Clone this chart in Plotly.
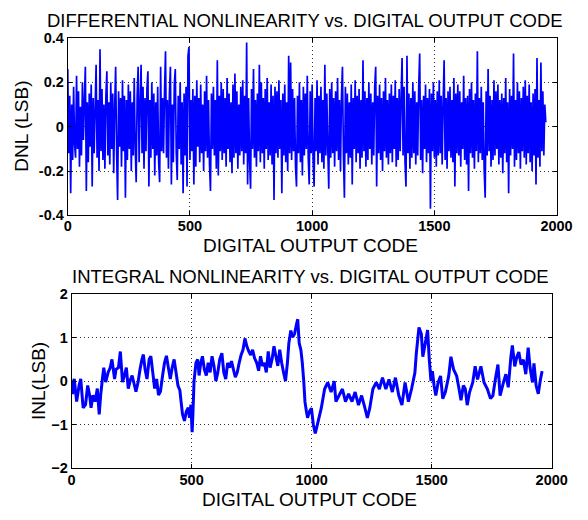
import plotly.graph_objects as go

# ---------------- data ----------------
dnl_code_step = 4
dnl_values = [
    0.26, -0.12, 0.14, -0.30, 0.10, -0.15, 0.18, -0.08, -0.14, 0.23,
    -0.10, 0.16, -0.18, 0.09, -0.13, 0.20, -0.06, 0.12, 0.27, -0.29,
    0.11, -0.16, 0.15, -0.09, 0.19, -0.27, 0.13, -0.12, 0.08, 0.28,
    -0.14, 0.12, -0.20, 0.35, -0.11, 0.17, -0.15, 0.10, -0.19, 0.14,
    0.25, -0.13, 0.11, -0.17, 0.20, -0.10, 0.15, -0.21, 0.09, 0.27,
    -0.12, -0.33, 0.16, -0.09, 0.13, -0.18, 0.21, -0.11, 0.14, -0.32,
    0.12, -0.15, 0.19, -0.10, 0.16, -0.20, 0.11, -0.13, 0.22, -0.09,
    -0.25, 0.14, 0.27, -0.16, 0.10, 0.28, -0.12, 0.18, -0.19, 0.13,
    -0.11, 0.17, 0.25, -0.27, 0.12, -0.14, 0.20, -0.10, 0.15, -0.22,
    0.11, -0.13, 0.18, -0.16, -0.25, 0.27, -0.11, 0.13, -0.12, 0.16,
    0.34, -0.14, 0.12, -0.19, 0.15, 0.27, -0.26, 0.10, -0.16, 0.19,
    0.26, -0.12, -0.24, 0.14, -0.10, 0.20, -0.17, 0.11, -0.30, 0.15,
    -0.13, 0.18, -0.27, 0.32, 0.36, -0.15, 0.12, -0.11, 0.17, -0.26,
    0.14, -0.18, 0.21, -0.09, 0.13, -0.16, 0.19, -0.12, 0.10, -0.20,
    0.16, -0.11, 0.23, -0.14, 0.12, -0.17, -0.29, 0.15, -0.10, 0.18,
    -0.13, 0.12, -0.19, 0.30, -0.22, 0.14, -0.11, 0.20, -0.15, 0.17,
    -0.12, 0.13, -0.18, 0.22, -0.10, 0.15, -0.16, 0.11, -0.21, 0.19,
    -0.14, 0.24, -0.12, 0.16, -0.19, 0.10, -0.13, 0.18, -0.11, 0.21,
    -0.17, 0.14, -0.12, 0.38, -0.26, 0.13, -0.15, -0.28, 0.17, -0.10,
    0.26, -0.14, 0.12, -0.18, 0.15, -0.11, 0.28, -0.16, 0.20, -0.12,
    0.13, -0.19, 0.17, -0.10, 0.22, -0.15, 0.11, -0.13, 0.19, -0.17,
    0.14, -0.33, 0.18, -0.12, 0.16, -0.14, 0.21, -0.10, 0.12, -0.30,
    0.15, -0.13, 0.19, -0.16, 0.11, -0.20, 0.32, -0.12, 0.29, -0.15,
    0.17, -0.11, 0.13, -0.18, -0.27, 0.14, -0.12, 0.20, -0.16, 0.12,
    -0.22, 0.18, -0.13, 0.15, -0.10, 0.23, -0.14, -0.26, 0.16, -0.12,
    0.19, -0.15, -0.27, 0.13, -0.11, 0.21, -0.17, 0.14, -0.12, 0.18,
    -0.16, 0.12, -0.19, 0.28, -0.13, 0.15, -0.10, -0.28, 0.17, -0.14,
    0.20, -0.12, 0.13, -0.18, 0.16, -0.11, 0.22, -0.15, 0.12, -0.20,
    0.14, 0.27, -0.13, -0.32, 0.18, -0.12, 0.15, -0.17, 0.11, -0.14,
    0.19, -0.26, 0.13, -0.10, 0.21, -0.16, 0.14, -0.12, 0.17, -0.19,
    0.12, -0.14, 0.30, -0.11, 0.16, -0.18, 0.13, -0.15, 0.20, -0.10,
    0.15, -0.17, 0.11, -0.13, 0.18, 0.27, -0.27, 0.14, -0.12, 0.19,
    -0.15, 0.13, -0.20, 0.16, -0.11, 0.22, -0.14, 0.12, -0.17, 0.15,
    -0.12, 0.19, -0.16, 0.14, -0.10, 0.21, -0.18, 0.13, -0.15, 0.17,
    -0.11, 0.14, 0.31, -0.13, 0.18, -0.16, -0.27, 0.32, -0.12, 0.15,
    -0.19, 0.13, -0.14, 0.20, -0.12, 0.16, -0.17, 0.11, -0.13, 0.18,
    0.33, -0.15, 0.12, -0.21, 0.14, -0.10, 0.19, -0.16, 0.13, -0.12,
    0.17, -0.37, 0.15, -0.11, 0.20, -0.14, 0.12, -0.18, 0.16, -0.13,
    0.21, -0.12, 0.14, -0.17, 0.11, 0.30, -0.15, 0.13, -0.19, 0.16,
    -0.11, 0.18, -0.14, 0.12, -0.16, 0.22, -0.27, 0.15, -0.12, 0.19,
    -0.13, 0.16, -0.18, 0.11, -0.10, 0.23, -0.15, 0.13, -0.17, 0.14,
    -0.29, 0.17, -0.12, 0.20, -0.14, 0.12, -0.19, 0.15, -0.11, 0.34,
    -0.16, 0.13, -0.12, 0.18, -0.15, 0.11, -0.20, -0.32, 0.16, -0.13,
    0.26, -0.11, 0.14, -0.18, 0.12, -0.15, 0.21, -0.13, 0.16, -0.10,
    0.19, -0.17, 0.12, -0.14, 0.15, -0.21, 0.13, -0.12, 0.22, -0.16,
    0.11, -0.30, 0.17, -0.13, 0.14, -0.10, 0.33, -0.18, 0.12, -0.15,
    0.20, -0.12, 0.16, -0.19, 0.13, -0.11, 0.18, -0.14, 0.21, -0.17,
    0.14, -0.12, 0.19, -0.16, 0.11, -0.20, 0.15, -0.13, 0.17, -0.26,
    0.31, -0.14, 0.12, -0.18, 0.29, -0.11, 0.16, -0.13, 0.10, 0.02,
]
dnl_codes = [i * dnl_code_step for i in range(len(dnl_values))]

inl_codes = [
    0, 4, 8, 11, 21, 31, 38, 48, 58, 67, 75, 81, 89, 98, 107, 115, 121, 129,
    134, 142, 152, 161, 168, 179, 185, 195, 203, 212, 220, 228, 236, 246, 252,
    262, 268, 277, 285, 293, 299, 306, 314, 323, 330, 338, 346, 354, 362, 370,
    379, 387, 395, 403, 411, 419, 427, 435, 443, 451, 456, 462, 470, 478, 486,
    491, 497, 502, 505, 510, 518, 525, 531, 538, 545, 553, 561, 569, 577, 585,
    593, 601, 609, 617, 626, 634, 642, 650, 658, 666, 674, 682, 690, 698, 706,
    714, 722, 730, 738, 746, 754, 762, 771, 779, 787, 795, 803, 811, 819, 827,
    835, 843, 851, 859, 867, 875, 883, 891, 899, 905, 913, 921, 929, 937, 942,
    948, 955, 961, 967, 972, 978, 983, 991, 999, 1007, 1015, 1027, 1040, 1054,
    1067, 1081, 1094, 1101, 1114, 1128, 1141, 1154, 1168, 1181, 1195, 1208,
    1222, 1232, 1242, 1255, 1269, 1282, 1295, 1309, 1322, 1336, 1349, 1363,
    1376, 1389, 1403, 1416, 1430, 1436, 1447, 1457, 1463, 1473, 1483, 1490,
    1497, 1503, 1510, 1517, 1527, 1537, 1546, 1557, 1571, 1580, 1591, 1604,
    1614, 1622, 1632, 1640, 1648, 1658, 1671, 1681, 1691, 1705, 1718, 1732,
    1745, 1755, 1765, 1776, 1785, 1799, 1809, 1819, 1830, 1836, 1846, 1855,
    1863, 1872, 1882, 1892, 1902, 1910, 1920, 1926, 1935, 1944, 1953, 1960,
]
inl_values = [
    -0.05, -0.30, 0.00, 0.05, -0.47, -0.10, 0.05, -0.61, -0.54, -0.10, -0.32,
    -0.61, -0.32, -0.47, -0.17, -0.76, -0.32, 0.09, 0.31, -0.02, 0.20, 0.31,
    0.50, 0.05, 0.27, 0.31, 0.68, -0.02, 0.13, 0.31, -0.17, 0.05, 0.13, -0.10,
    -0.24, -0.02, 0.27, 0.50, 0.61, 0.27, 0.05, 0.50, 0.57, 0.20, -0.17, 0.05,
    -0.32, -0.24, 0.13, 0.42, 0.58, 0.31, 0.05, 0.31, 0.50, 0.20, -0.10, -0.21,
    -0.47, -0.76, -0.91, -0.69, -0.61, -0.84, -0.54, -1.17, -0.80, 0.00, 0.42,
    0.50, 0.13, 0.42, 0.57, 0.27, 0.13, 0.42, 0.20, 0.57, 0.35, 0.00, 0.20,
    0.50, 0.64, 0.20, 0.05, 0.42, 0.31, 0.46, 0.27, 0.09, 0.20, 0.42, 0.60,
    0.72, 0.98, 0.80, 0.68, 0.60, 0.72, 0.53, 0.42, 0.24, 0.57, 0.35, 0.42,
    0.20, 0.68, 0.31, 0.50, 0.80, 0.57, 0.35, 0.72, 0.42, 0.20, 0.00, 0.42,
    0.87, 1.16, 1.01, 1.09, 1.31, 1.42, 0.87, 0.72, 0.42, 0.00, -0.47, -0.69,
    -0.84, -0.69, -0.62, -1.00, -1.20, -0.92, -0.62, -0.18, -0.03, -0.25, 0.00,
    -0.47, -0.33, -0.18, -0.47, -0.29, -0.47, -0.25, -0.55, -0.33, -0.62,
    -0.84, -0.62, -0.18, -0.03, -0.18, 0.08, -0.18, 0.04, -0.25, 0.08, -0.33,
    -0.55, -0.03, -0.47, -0.18, 0.19, 0.64, 1.23, 1.08, 0.56, 0.86, 1.17,
    0.49, 0.00, 0.23, -0.10, -0.33, -0.03, 0.12, -0.40, -0.25, 0.12, 0.56,
    0.27, 0.12, -0.18, -0.44, -0.10, -0.18, -0.55, -0.25, -0.03, 0.34, 0.04,
    0.34, -0.03, -0.18, -0.40, -0.33, 0.04, 0.38, -0.33, -0.03, 0.16, -0.14,
    0.56, 0.82, 0.34, 0.56, 0.67, 0.38, 0.49, 0.16, 0.77, 0.30, -0.03, 0.41,
    -0.10, -0.29, 0.04, 0.23,
]

x_ticks = [0, 500, 1000, 1500, 2000]
dnl_ticks = [-0.4, -0.2, 0, 0.2, 0.4]
dnl_tick_text = ["-0.4", "-0.2", "0", "0.2", "0.4"]
inl_ticks = [-2, -1, 0, 1, 2]

dnl_title = "DIFFERENTIAL NONLINEARITY vs. DIGITAL OUTPUT CODE"
inl_title = "INTEGRAL NONLINEARITY vs. DIGITAL OUTPUT CODE"
x_label = "DIGITAL OUTPUT CODE"
dnl_label = "DNL (LSB)"
inl_label = "INL(LSB)"

# ---------------- figure ----------------
W, H = 588, 520
FONT = "Liberation Sans, Arial, Helvetica, sans-serif"
BLUE = "#0000ff"

fig = go.Figure()
fig.add_trace(go.Scatter(x=dnl_codes, y=dnl_values, mode="lines",
                         line=dict(color=BLUE, width=1.7, simplify=False),
                         xaxis="x", yaxis="y",
                         showlegend=False, hoverinfo="skip"))
fig.add_trace(go.Scatter(x=inl_codes, y=inl_values, mode="lines",
                         line=dict(color=BLUE, width=3, simplify=False),
                         xaxis="x2", yaxis="y2",
                         showlegend=False, hoverinfo="skip"))

def px_x(p):
    return p / W

def px_y(p):
    return 1 - p / H

axis_common = dict(
    showline=True, linecolor="#000000", linewidth=1, mirror="ticks",
    ticks="inside", ticklen=4, tickcolor="#000000",
    showgrid=True, gridcolor="#333333", gridwidth=1, griddash="1px,3px",
    zeroline=False,
    tickfont=dict(family=FONT, size=14.5, color="#000000", weight="bold"),
)

fig.update_layout(
    width=W, height=H,
    margin=dict(l=0, r=0, t=0, b=0),
    paper_bgcolor="#ffffff", plot_bgcolor="#ffffff",
    xaxis=dict(domain=[px_x(66), px_x(572)], range=[0, 2000],
               tickvals=x_ticks, anchor="y", ticklabelstandoff=-3,
               **axis_common),
    yaxis=dict(domain=[px_y(214), px_y(31)], range=[-0.4, 0.4],
               tickvals=dnl_ticks, ticktext=dnl_tick_text, anchor="x",
               **axis_common),
    xaxis2=dict(domain=[px_x(70), px_x(567)], range=[0, 2000],
                tickvals=x_ticks, anchor="y2", ticklabelstandoff=-2,
                **axis_common),
    yaxis2=dict(domain=[px_y(475), px_y(295)], range=[-2, 2],
                tickvals=inl_ticks, anchor="x2", **axis_common),
)

def ann(text, x, y, size, angle=0):
    fig.add_annotation(text=text, x=px_x(x), y=px_y(y), xref="paper", yref="paper",
                       showarrow=False, xanchor="center", yanchor="middle",
                       textangle=angle,
                       font=dict(family=FONT, size=size, color="#000000"))

ann(dnl_title, 312, 13, 18.5)
ann(inl_title, 317, 277, 18.5)
ann(x_label, 317, 245, 19)
ann(x_label, 316, 507, 19)
ann(dnl_label, 18, 122, 19, -90)
ann(inl_label, 35, 385, 19, -90)

fig.write_html("out.html")
